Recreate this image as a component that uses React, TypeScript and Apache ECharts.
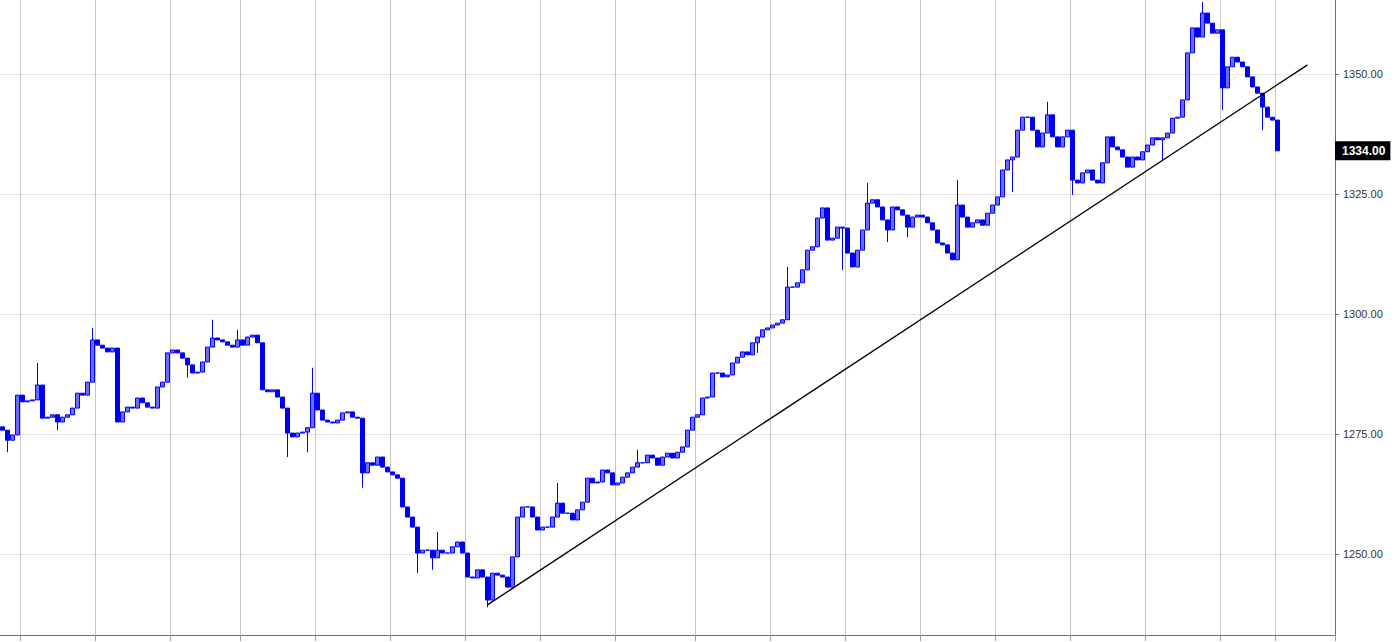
import React, { useEffect, useRef } from "react";
import * as echarts from "echarts";

// Closing prices, one per bar
const closes: number[] = [
  1275.8, 1273.7, 1274.8, 1283.1, 1281.7, 1281.9, 1282.1, 1285.2, 1278.3, 1278.5,
  1279.0, 1277.5, 1278.5, 1279.0, 1280.4, 1283.5, 1283.1, 1285.8, 1294.6, 1293.5,
  1292.9, 1292.1, 1292.9, 1277.5, 1279.6, 1280.6, 1280.4, 1282.5, 1281.5, 1280.6,
  1280.4, 1284.8, 1285.8, 1291.9, 1292.5, 1291.9, 1290.8, 1289.4, 1287.7, 1287.9,
  1290.0, 1293.1, 1295.0, 1294.6, 1294.2, 1293.5, 1293.1, 1294.6, 1293.5, 1295.2,
  1295.6, 1294.0, 1284.2, 1283.8, 1284.2, 1282.7, 1280.4, 1275.2, 1274.4, 1275.2,
  1275.4, 1276.3, 1283.5, 1280.0, 1277.9, 1277.5, 1277.3, 1277.9, 1279.4, 1279.6,
  1278.5, 1278.3, 1266.9, 1269.0, 1268.5, 1270.2, 1268.1, 1267.1, 1266.5, 1265.8,
  1259.8, 1257.7, 1255.6, 1250.2, 1250.8, 1250.8, 1249.2, 1250.8, 1250.2, 1250.2,
  1251.5, 1252.5, 1250.2, 1245.2, 1245.0, 1246.7, 1245.2, 1240.4, 1246.0, 1245.6,
  1245.2, 1243.1, 1249.4, 1257.7, 1259.8, 1259.8, 1257.7, 1255.0, 1255.6, 1255.6,
  1257.7, 1260.6, 1258.5, 1258.5, 1257.1, 1259.2, 1260.8, 1265.8, 1264.8, 1265.0,
  1267.5, 1266.9, 1264.4, 1264.8, 1266.0, 1266.9, 1268.1, 1269.0, 1269.0, 1270.6,
  1270.0, 1268.5, 1270.2, 1271.0, 1270.0, 1271.2, 1272.3, 1275.8, 1278.5, 1279.0,
  1282.5, 1282.7, 1287.7, 1287.7, 1286.9, 1287.3, 1289.8, 1291.0, 1292.1, 1291.5,
  1294.0, 1295.2, 1296.7, 1297.1, 1297.7, 1298.1, 1298.8, 1305.6, 1305.6, 1306.5,
  1309.2, 1313.3, 1314.0, 1320.0, 1322.1, 1315.4, 1315.8, 1318.1, 1317.9, 1312.7,
  1309.8, 1313.3, 1317.5, 1323.1, 1323.8, 1322.3, 1319.6, 1317.5, 1322.3, 1321.7,
  1320.6, 1318.1, 1320.2, 1320.6, 1320.2, 1319.0, 1317.5, 1314.8, 1314.4, 1312.7,
  1311.3, 1322.7, 1320.2, 1318.1, 1319.0, 1319.6, 1318.5, 1321.0, 1322.7, 1324.4,
  1330.0, 1332.1, 1332.7, 1338.3, 1341.0, 1341.0, 1338.3, 1334.8, 1337.7, 1341.5,
  1336.9, 1334.8, 1336.9, 1338.3, 1327.9, 1327.3, 1329.4, 1330.0, 1327.9, 1327.3,
  1331.5, 1336.9, 1334.8, 1334.2, 1332.7, 1330.6, 1332.7, 1332.1, 1333.8, 1335.2,
  1336.7, 1336.3, 1336.7, 1337.7, 1340.8, 1341.0, 1344.6, 1354.4, 1359.6, 1357.7,
  1362.7, 1360.6, 1358.5, 1359.2, 1347.1, 1351.5, 1353.5, 1352.5, 1351.5, 1349.4,
  1347.3, 1346.0, 1343.1, 1341.0, 1340.4, 1334.0,
];
const firstOpen = 1276.5;

// Notable wick extremes: [bar index, price]
const highWicks: [number, number][] = [
  [7, 1289.8], [18, 1297.1], [42, 1298.8], [47, 1296.7], [62, 1288.8],
  [87, 1254.6], [111, 1264.8], [127, 1271.7], [157, 1309.8], [173, 1327.3],
  [191, 1327.9], [209, 1344.2], [240, 1365.0],
];
const lowWicks: [number, number][] = [
  [1, 1271.2], [11, 1275.8], [37, 1286.7], [57, 1270.2], [61, 1271.2],
  [72, 1263.8], [83, 1246.0], [86, 1246.7], [97, 1238.9], [151, 1291.9],
  [168, 1309.2], [177, 1315.0], [181, 1316.0], [202, 1325.4], [214, 1324.8],
  [232, 1332.1], [244, 1342.5], [252, 1338.3],
];

// Total bar slots on the time axis (empty space on the right)
const slotCount = 267;
// Bar indices where the vertical (session) grid lines sit
const sessionBreaks: number[] = [4, 19, 34, 48, 63, 78, 93, 108, 123, 139, 154, 169, 184, 199, 214, 229, 244, 255];
// Price tick labels
const priceTicks: number[] = [1250, 1275, 1300, 1325, 1350];
const yMin = 1233.125;
const yMax = 1365.417;
// Trend line anchors [bar index, price]
const trendStart: [number, number] = [97, 1239.4];
const trendEnd: [number, number] = [261, 1351.9];

export default function App() {
  const ref = useRef<HTMLDivElement>(null);
  useEffect(() => {
    if (!ref.current) return;
    const chart = echarts.init(ref.current, undefined, { renderer: "svg" });
    const cats = Array.from({ length: slotCount }, (_, i) => String(i));
    const hi = new Map(highWicks);
    const lo = new Map(lowWicks);
    const ohlc = closes.map((c, i) => {
      const o = i === 0 ? firstOpen : closes[i - 1];
      const h = Math.max(o, c, hi.get(i) ?? -Infinity);
      const l = Math.min(o, c, lo.get(i) ?? Infinity);
      return [o, c, l, h];
    });
    const breakSet = new Set(sessionBreaks);
    const font = "Arial, 'Liberation Sans', sans-serif";
    const last = closes[closes.length - 1];
    chart.setOption({
      animation: false,
      grid: { left: 0, right: 64, top: 0, bottom: 7 },
      xAxis: {
        type: "category",
        data: cats,
        boundaryGap: true,
        axisLine: { lineStyle: { color: "#6e6e6e", width: 1 } },
        axisTick: {
          show: true,
          length: 6,
          interval: (i: number) => breakSet.has(i),
          lineStyle: { color: "#9a9a9a" },
        },
        axisLabel: { show: false },
        splitLine: {
          show: true,
          interval: (i: number) => breakSet.has(i),
          lineStyle: { color: "#c6c6c6", width: 1 },
        },
      },
      yAxis: {
        type: "value",
        position: "right",
        min: yMin,
        max: yMax,
        scale: true,
        axisLine: { show: true, lineStyle: { color: "#6e6e6e" } },
        axisTick: { show: true, length: 4, customValues: priceTicks, lineStyle: { color: "#6e6e6e" } },
        axisLabel: {
          customValues: priceTicks,
          formatter: (v: number) => v.toFixed(2),
          color: "#333",
          fontSize: 11,
          fontFamily: font,
          margin: 8,
        },
        splitLine: { show: true, lineStyle: { color: "#e4e4e4", width: 1 } },
      },
      series: [
        {
          type: "candlestick",
          data: ohlc,
          barWidth: 4,
          itemStyle: {
            color: "#6a6aff",
            color0: "#0000ee",
            borderColor: "#0000ff",
            borderColor0: "#0000ff",
            borderWidth: 1,
          },
          markLine: {
            silent: true,
            symbol: "none",
            lineStyle: { color: "rgba(0,0,0,0)", width: 0 },
            label: {
              show: true,
              position: "end",
              distance: 0,
              formatter: () => last.toFixed(2),
              backgroundColor: "#000",
              color: "#fff",
              fontWeight: "bold",
              fontSize: 12,
              fontFamily: font,
              padding: [4, 5, 3, 7],
            },
            data: [{ yAxis: last }],
          },
        },
        {
          type: "line",
          data: [trendStart, trendEnd],
          symbol: "none",
          lineStyle: { color: "#000", width: 1.3 },
          z: 5,
        },
      ],
    });
    return () => chart.dispose();
  }, []);
  return (
    <div
      ref={ref}
      style={{ position: "fixed", left: 0, top: 0, width: 1399, height: 642, background: "#fff" }}
    />
  );
}
